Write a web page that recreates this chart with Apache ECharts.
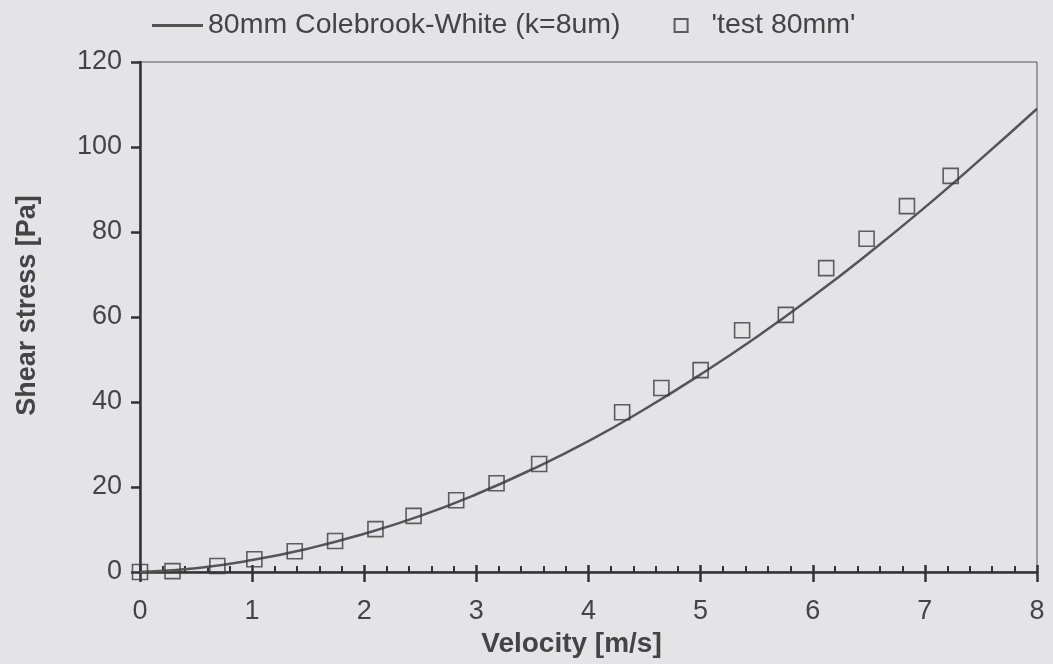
<!DOCTYPE html>
<html>
<head>
<meta charset="utf-8">
<script src="https://cdn.jsdelivr.net/npm/echarts@6/dist/echarts.min.js"></script>
<style>
html,body{margin:0;padding:0;background:#e4e4e6;}
#c{width:1053px;height:664px;}
</style>
</head>
<body>
<div id="c"></div>
<script>
// Colebrook-White curve
const curveV   = [0, 0.5, 1, 1.5, 2, 2.5, 3, 3.5, 4, 4.5, 5, 5.5, 6, 6.5, 7, 7.5, 8];
const curveTau = [0, 0.9, 2.8, 5.5, 9.0, 13.2, 18.3, 24.2, 30.8, 38.3, 46.5, 55.3, 64.8, 75.0, 85.8, 97.2, 109.0];
// test 80mm measurements
const testV   = [0, 0.29, 0.69, 1.02, 1.38, 1.74, 2.10, 2.44, 2.82, 3.18, 3.56, 4.30, 4.65, 5.00, 5.37, 5.76, 6.12, 6.48, 6.84, 7.23];
const testTau = [0, 0.2, 1.4, 3.0, 4.9, 7.3, 10.1, 13.2, 16.9, 20.9, 25.4, 37.6, 43.3, 47.5, 56.9, 60.5, 71.5, 78.4, 86.1, 93.2];
const seriesNames = ['80mm Colebrook-White (k=8um)', "'test 80mm'"];
const xName = 'Velocity [m/s]';
const yName = 'Shear stress [Pa]';

const font = 'Liberation Sans, Arial, sans-serif';
const ink = '#444';
const chart = echarts.init(document.getElementById('c'));
chart.setOption({
  backgroundColor: '#e4e4e6',
  animation: false,
  textStyle: {fontFamily: font},
  legend: {
    top: 6, left: 147, itemGap: 53, itemWidth: 51, itemHeight: 13,
    textStyle: {fontSize: 28.5, color: ink, fontFamily: font},
    data: [
      {name: seriesNames[0], icon: 'path://M0,0L50,0L50,3L0,3Z'},
      {name: seriesNames[1], icon: 'path://M0,0L10,0L10,10L0,10Z'}
    ]
  },
  grid: {left: 140, right: 16, top: 62, bottom: 92, show: true, borderColor: '#555', borderWidth: 1, backgroundColor: 'transparent'},
  xAxis: [{
    type: 'value', min: 0, max: 8, interval: 1,
    name: xName, nameLocation: 'middle', nameGap: 55,
    nameTextStyle: {fontSize: 28, fontWeight: 'bold', color: ink, fontFamily: font, padding: [0, 34, 0, 0]},
    axisLine: {show: true, lineStyle: {color: '#333', width: 2.5}},
    axisTick: {show: true, inside: false, length: 10, lineStyle: {color: '#333', width: 2.5}},
    axisLabel: {fontSize: 27, color: ink, margin: 26, fontFamily: font},
    splitLine: {show: false}
  }, {
    type: 'value', min: 0, max: 8, interval: 1, position: 'bottom', offset: 0,
    axisLine: {show: false},
    axisTick: {show: true, inside: true, length: 7, lineStyle: {color: '#333', width: 2.5}},
    minorTick: {show: true, splitNumber: 5, length: 6, lineStyle: {color: '#333', width: 2}},
    axisLabel: {show: false},
    splitLine: {show: false}
  }],
  yAxis: {
    type: 'value', min: 0, max: 120, interval: 20,
    name: yName, nameLocation: 'middle', nameGap: 99, nameRotate: 90,
    nameTextStyle: {fontSize: 27, fontWeight: 'bold', color: ink, fontFamily: font, padding: [0, 0, 0, 23]},
    axisLine: {show: true, lineStyle: {color: '#333', width: 2.5}},
    axisTick: {show: true, inside: false, length: 9, lineStyle: {color: '#333', width: 2.5}},
    axisLabel: {fontSize: 27, color: ink, margin: 18, fontFamily: font},
    splitLine: {show: false}
  },
  series: [{
    name: seriesNames[0], type: 'line', smooth: true, symbol: 'none',
    lineStyle: {color: '#555', width: 2.5}, itemStyle: {color: '#555'},
    data: curveV.map((v, i) => [v, curveTau[i]]), z: 2
  }, {
    name: seriesNames[1], type: 'scatter', symbol: 'rect', symbolSize: 15,
    itemStyle: {color: 'rgba(0,0,0,0)', borderColor: '#3a3a3a', borderWidth: 1.6},
    data: testV.map((v, i) => [v, testTau[i]]), z: 3
  }]
});
</script>
</body>
</html>
